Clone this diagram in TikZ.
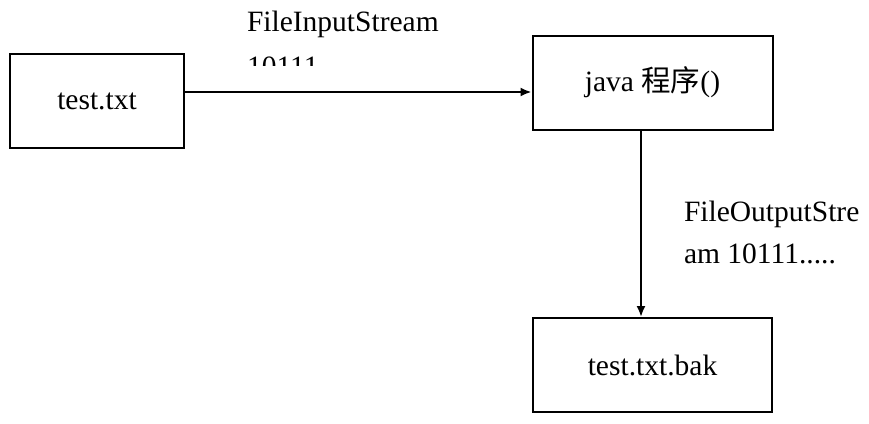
\documentclass[tikz,border=0pt]{standalone}
\usepackage{fontspec}
\setmainfont{Liberation Serif}
\newfontfamily\cjk{Noto Sans CJK SC}
\usetikzlibrary{arrows.meta}

\begin{document}
\begin{tikzpicture}[x=1pt,y=-1pt,line width=2pt,
    every node/.style={font=\fontsize{29.5}{42}\selectfont}]

        \useasboundingbox (0,0) rectangle (869,423);

        \begin{scope}[every node/.style={rectangle,draw,minimum height=94pt,
            font=\fontsize{29.5}{42}\selectfont}]
          \node[minimum width=174pt] (txt)  at (97,101)    {test.txt};
          \node[minimum width=240pt] (java) at (652.5,82.5) {java {\cjk 程序}()};
          \node[minimum width=239pt] (bak)  at (652.5,365) {test.txt.bak};
        \end{scope}

        \begin{scope}[every node/.style={anchor=north west,inner sep=0pt,align=left,
            font=\fontsize{29.5}{42}\selectfont}]
          \begin{scope}
            \clip (200,0) rectangle (520,65);
            \node (in)  at (246,10)  {FileInputStream\\[3pt]10111};
          \end{scope}
          \node (out) at (683,200) {FileOutputStre\\am 10111.....};
        \end{scope}

        \begin{scope}[every edge/.style={draw,-{Latex[length=11pt,width=9pt]}}]
          \path (txt.east |- 0,92) edge (java.west |- 0,92);
          \path (java.south -| 641,0) edge (bak.north -| 641,0);
        \end{scope}

      \end{tikzpicture}
\end{document}
